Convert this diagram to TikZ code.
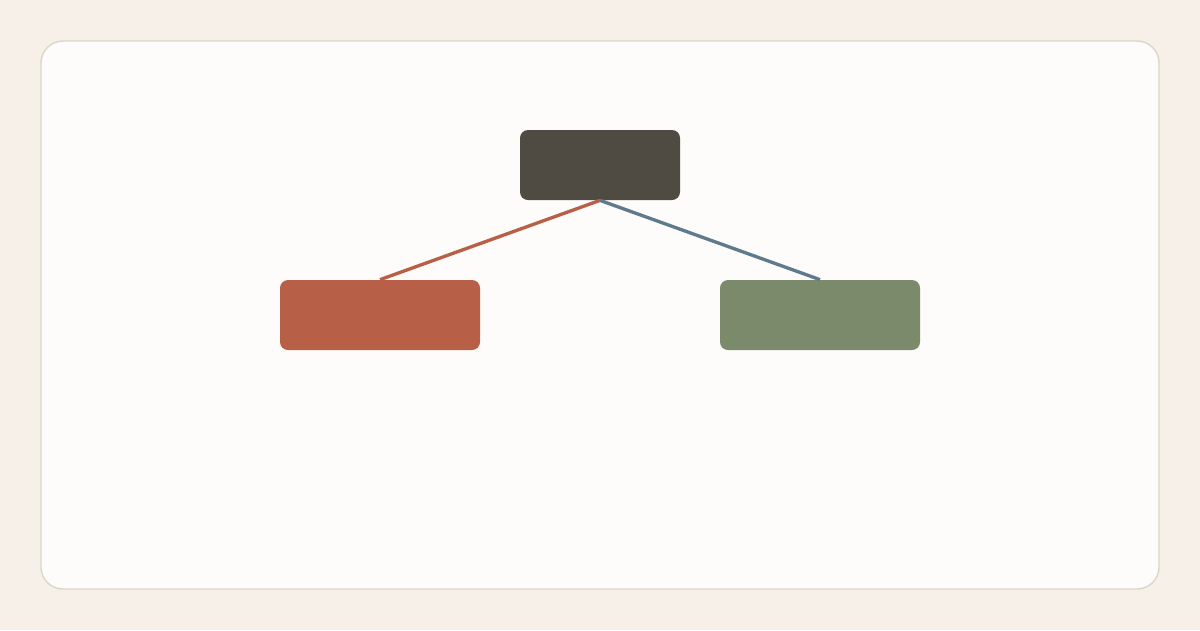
\documentclass[tikz,border=0pt]{standalone}
\usepackage{tikz}

\definecolor{pagebg}{HTML}{F6F0E9}
\definecolor{cardbg}{HTML}{FEFCFA}
\definecolor{cardline}{HTML}{DDD5C8}
\definecolor{rootfill}{HTML}{504B42}
\definecolor{leftfill}{HTML}{B86047}
\definecolor{rightfill}{HTML}{7A8A6B}
\definecolor{rightedge}{HTML}{5E7A8C}

\begin{document}
\begin{tikzpicture}[sibling distance=8.8cm, level distance=3cm,
  every node/.style = {shape=rectangle, rounded corners=0.16cm,
    minimum height=1.4cm, inner sep=0pt},
  parent anchor=south, child anchor=north]
  \fill[pagebg] (0,0) rectangle (24,-12.6);
  \useasboundingbox (0,0) rectangle (24,-12.6);
  \draw[cardline, fill=cardbg, line width=0.8pt, rounded corners=0.44cm]
    (0.82,-0.82) rectangle (23.18,-11.78);
  \node[fill=rootfill, minimum width=3.2cm] (root) at (12,-3.3) {}
    child { node[fill=leftfill, minimum width=4cm] (left) {}
      edge from parent[draw=leftfill, line width=1.9pt] }
    child { node[fill=rightfill, minimum width=4cm] (right) {}
      edge from parent[draw=rightedge, line width=1.9pt] };
\end{tikzpicture}
\end{document}
